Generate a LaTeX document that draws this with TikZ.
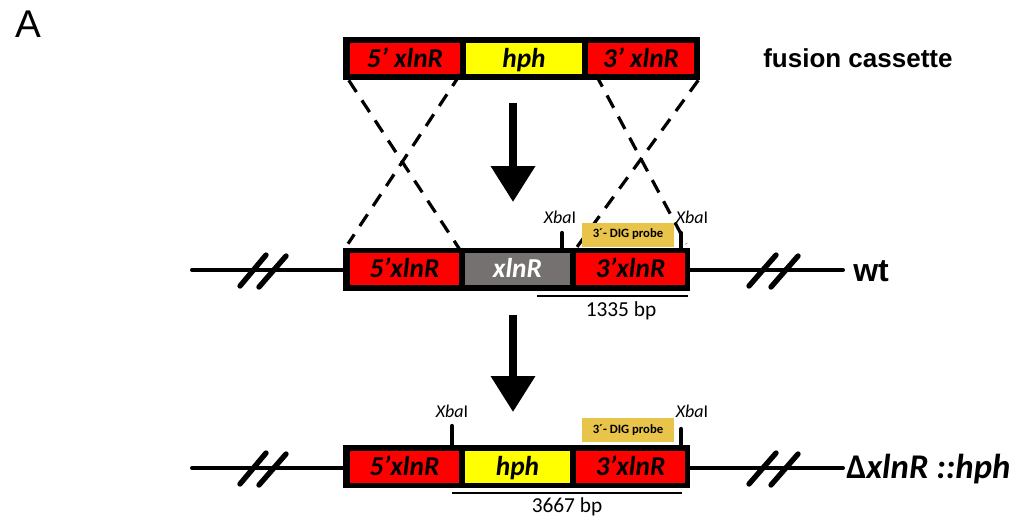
\documentclass[tikz,border=0pt]{standalone}
\usepackage{fontspec}
\setmainfont{Carlito}
\newfontfamily\arialf{Liberation Sans}
\usetikzlibrary{arrows.meta}
\definecolor{gred}{HTML}{FF0000}
\definecolor{gyel}{HTML}{FFFF00}
\definecolor{ggrey}{HTML}{767171}
\definecolor{gprobe}{HTML}{E9C44A}
\begin{document}
\begin{tikzpicture}[x=0.75pt,y=-0.75pt,
  outerbox/.style={fill=black,inner sep=0pt,minimum height=32.25pt},
  seg/.style={inner sep=0pt,minimum height=24pt,text height=13.2pt,text depth=0pt,font=\fontsize{20.5}{20.5}\selectfont\bfseries\itshape},
  dna/.style={line width=3pt,line cap=round},
  brk/.style={line width=4pt,line cap=round},
  xdash/.style={line width=2.4pt,dash pattern=on 10.5pt off 7.5pt},
  tick/.style={line width=3.2pt,line cap=round},
  probe/.style={fill=gprobe,inner sep=0pt,minimum width=69pt,minimum height=18pt,font=\fontsize{9.5}{9.5}\selectfont\bfseries},
  xba/.style={inner sep=0pt,font=\fontsize{13.5}{13.5}\selectfont},
  bp/.style={inner sep=0pt,font=\fontsize{16}{16}\selectfont},
  bigarrow/.style={line width=6pt,-{Triangle[length=27pt,width=32pt]}},
  bpline/.style={line width=0.9pt},
  lbl/.style={inner sep=0pt,font=\fontsize{26}{26}\selectfont\bfseries}]
\useasboundingbox (0,0) rectangle (1017,522);

% label A
\node[inner sep=0pt,font=\arialf\fontsize{29}{29}\selectfont] (lA) at (28,24) {A};

% ---------- fusion cassette ----------
\node[outerbox,minimum width=267.75pt] (cas) at (521.5,58.5) {};
\node[seg,fill=gred,minimum width=82.5pt,minimum height=23.25pt] (c5) at (405,58.5) {5’ xlnR};
\node[seg,fill=gyel,minimum width=87pt,minimum height=23.25pt] (ch) at (524,58.5) {hph};
\node[seg,fill=gred,minimum width=79.5pt,minimum height=23.25pt] (c3) at (641,58.5) {3’ xlnR};
\node[inner sep=0pt,anchor=west,font=\arialf\fontsize{19.5}{19.5}\selectfont\bfseries] (fc) at (763,58) {fusion cassette};

% ---------- wt locus ----------
\coordinate (wl) at (192,270);
\coordinate (wr) at (843,270);
\draw[dna] (wl) -- (wr);
\draw[brk] (240,286) -- (266,255);
\draw[brk] (259,287) -- (286,256);
\draw[brk] (749,286) -- (776,255);
\draw[brk] (771,287) -- (798,256);

\node[outerbox,minimum width=260.25pt] (wt) at (516.5,269.5) {};
\node[seg,fill=gred,minimum width=81.75pt] (w5) at (404.5,269) {5’xlnR};
\node[seg,fill=ggrey,text=white,minimum width=78.75pt] (wg) at (517.5,269) {xlnR};
\node[seg,fill=gred,minimum width=81.75pt] (w3) at (630.5,269) {3’xlnR};
\node[inner sep=0pt,anchor=west,font=\arialf\fontsize{24}{24}\selectfont\bfseries] (lwt) at (853,271) {wt};

% dashed crossover lines
\draw[xdash] (cas.south west) ++(6,0) coordinate (d1) -- ([yshift=3pt]w5.north east);
\draw[xdash] (c5.south east) -- ([xshift=4pt,yshift=3pt]wt.north west);
\draw[xdash] (c3.south west) ++(8,0) coordinate (d2) -- ([xshift=-3pt,yshift=3pt]wt.north east);
\draw[xdash] (cas.south east) ++(-2,0) coordinate (d3) -- ([yshift=3pt]w3.north west);

% XbaI sites wt
\coordinate (t1) at (562,248);
\coordinate (t2) at (681,248);
\draw[tick] (t1) -- ++(0,-15) coordinate (t1e);
\draw[tick] (t2) -- ++(0,-15) coordinate (t2e);
\node[xba] (x1) at (560,217) {\textit{Xba}I};
\node[xba] (x2) at (692,217) {\textit{Xba}I};
\node[probe] (p1) at (628,234.5) {3´- DIG probe};
\draw[bpline] (537,296) coordinate (s1a) -- (688,296) coordinate (s1b);
\node[bp] (b1) at (621,311) {1335 bp};

% ---------- arrows ----------
\coordinate (a1s) at (513,103);
\coordinate (a1e) at (513,202);
\draw[bigarrow] (a1s) -- (a1e);
\coordinate (a2s) at (513,315);
\coordinate (a2e) at (513,412);
\draw[bigarrow] (a2s) -- (a2e);

% ---------- mutant locus ----------
\coordinate (ml) at (192,468);
\coordinate (mr) at (843,468);
\draw[dna] (ml) -- (mr);
\draw[brk] (240,484) -- (266,453);
\draw[brk] (259,485) -- (286,454);
\draw[brk] (749,484) -- (776,453);
\draw[brk] (771,485) -- (798,454);

\node[outerbox,minimum width=260.25pt] (mt) at (516.5,466.5) {};
\node[seg,fill=gred,minimum width=81.75pt] (m5) at (404.5,467) {5’xlnR};
\node[seg,fill=gyel,minimum width=78.75pt] (mh) at (517.5,467) {hph};
\node[seg,fill=gred,minimum width=81.75pt] (m3) at (630.5,467) {3’xlnR};
\node[lbl,anchor=west] (lmt) at (846,469) {Δ\textit{xlnR ::hph}};

\coordinate (t3) at (452,445);
\coordinate (t4) at (681,445);
\draw[tick] (t3) -- ++(0,-19) coordinate (t3e);
\draw[tick] (t4) -- ++(0,-16) coordinate (t4e);
\node[xba] (x3) at (452,411) {\textit{Xba}I};
\node[xba] (x4) at (692,411) {\textit{Xba}I};
\node[probe] (p2) at (628,430) {3´- DIG probe};
\draw[bpline] (452,493) coordinate (s2a) -- (682,493) coordinate (s2b);
\node[bp] (b2) at (567,507) {3667 bp};
\end{tikzpicture}
\end{document}
